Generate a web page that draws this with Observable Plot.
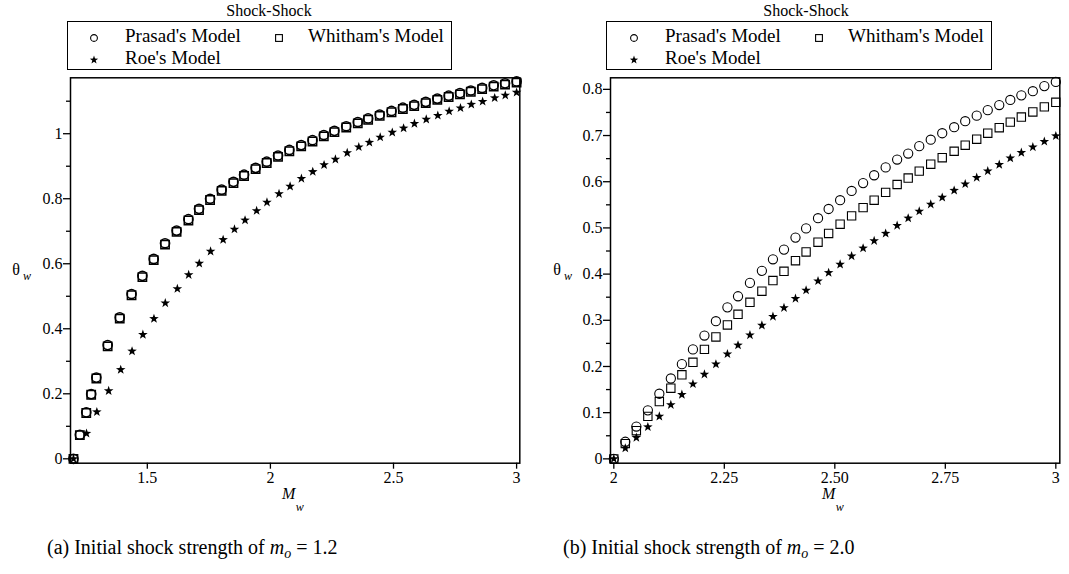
<!DOCTYPE html>
<html>
<head>
<meta charset="utf-8">
<script src="https://cdn.jsdelivr.net/npm/d3@7"></script>
<script src="https://cdn.jsdelivr.net/npm/@observablehq/plot@0.6"></script>
<style>
  body { margin: 0; background: #fff; }
  #page { position: relative; width: 1069px; height: 574px; overflow: hidden;
          font-family: "Liberation Serif", "Times New Roman", serif; color: #000; }
  .panel { position: absolute; top: 0; }
  .lbl { position: absolute; transform: translate(-50%, -50%); white-space: nowrap; line-height: 1; }
  .legend { position: absolute; border: 1.5px solid #000; box-sizing: border-box; background: #fff; }
  .cap { position: absolute; white-space: nowrap; font-size: 20px; transform: translateY(-50%); line-height: 1; }
  .cap sub { font-size: 14px; vertical-align: -4px; line-height: 0; }
</style>
</head>
<body>
<div id="page"></div>
<script>
// ---- Panel (a): initial shock strength m_o = 1.2 ----
// Prasad's and Whitham's models are sampled at the same Mach numbers here.
const mwA_PW = [1.200, 1.226, 1.252, 1.272, 1.293, 1.339, 1.388, 1.436, 1.480, 1.526, 1.572, 1.619, 1.667, 1.710,
  1.755, 1.802, 1.850, 1.893, 1.940, 1.985, 2.031, 2.077, 2.125, 2.171, 2.217, 2.260, 2.308, 2.355, 2.397, 2.444,
  2.492, 2.538, 2.584, 2.631, 2.678, 2.724, 2.770, 2.814, 2.860, 2.907, 2.953, 3.000];
const thetaA_Prasad = [0, 0.074, 0.143, 0.199, 0.250, 0.350, 0.435, 0.507, 0.563, 0.615, 0.663, 0.702, 0.737, 0.769,
  0.800, 0.828, 0.852, 0.874, 0.895, 0.914, 0.933, 0.950, 0.965, 0.980, 0.996, 1.009, 1.023, 1.036, 1.047, 1.059,
  1.070, 1.080, 1.089, 1.098, 1.108, 1.117, 1.125, 1.133, 1.141, 1.149, 1.155, 1.161];
const thetaA_Whitham = [0, 0.073, 0.141, 0.197, 0.247, 0.346, 0.431, 0.503, 0.559, 0.611, 0.659, 0.698, 0.733, 0.765,
  0.796, 0.824, 0.848, 0.870, 0.891, 0.910, 0.929, 0.946, 0.961, 0.976, 0.992, 1.005, 1.019, 1.032, 1.043, 1.055,
  1.066, 1.076, 1.085, 1.094, 1.104, 1.113, 1.121, 1.129, 1.137, 1.145, 1.151, 1.157];
const mwA_Roe = [1.200, 1.253, 1.295, 1.343, 1.392, 1.438, 1.482, 1.527, 1.573, 1.622, 1.668, 1.711, 1.757, 1.808,
  1.854, 1.897, 1.944, 1.986, 2.035, 2.080, 2.126, 2.172, 2.218, 2.264, 2.312, 2.359, 2.402, 2.446, 2.495, 2.541,
  2.585, 2.633, 2.680, 2.726, 2.772, 2.816, 2.862, 2.911, 2.954, 3.000];
const thetaA_Roe = [0, 0.078, 0.144, 0.209, 0.274, 0.331, 0.382, 0.431, 0.479, 0.523, 0.566, 0.601, 0.638, 0.674,
  0.706, 0.734, 0.763, 0.789, 0.815, 0.838, 0.862, 0.883, 0.904, 0.921, 0.941, 0.959, 0.973, 0.989, 1.004, 1.017,
  1.031, 1.044, 1.056, 1.069, 1.079, 1.090, 1.099, 1.110, 1.118, 1.127];

// ---- Panel (b): initial shock strength m_o = 2.0 ----
const mwB = [2.000, 2.026, 2.051, 2.077, 2.103, 2.129, 2.154, 2.179, 2.205, 2.231, 2.257, 2.281, 2.308, 2.335,
  2.360, 2.385, 2.411, 2.435, 2.462, 2.486, 2.512, 2.538, 2.564, 2.589, 2.615, 2.641, 2.666, 2.691, 2.717, 2.743,
  2.770, 2.795, 2.821, 2.846, 2.872, 2.897, 2.922, 2.948, 2.974, 3.000];
const thetaB_Prasad = [0, 0.037, 0.070, 0.105, 0.141, 0.174, 0.205, 0.237, 0.267, 0.298, 0.328, 0.352, 0.381, 0.407,
  0.432, 0.453, 0.479, 0.499, 0.521, 0.541, 0.560, 0.580, 0.597, 0.614, 0.631, 0.648, 0.661, 0.677, 0.691, 0.705,
  0.718, 0.731, 0.743, 0.755, 0.766, 0.777, 0.787, 0.796, 0.807, 0.816];
const thetaB_Whitham = [0, 0.033, 0.061, 0.092, 0.124, 0.153, 0.182, 0.209, 0.237, 0.264, 0.290, 0.313, 0.339, 0.363,
  0.386, 0.406, 0.429, 0.448, 0.469, 0.488, 0.508, 0.526, 0.544, 0.560, 0.577, 0.594, 0.608, 0.623, 0.638, 0.652,
  0.666, 0.679, 0.692, 0.705, 0.717, 0.729, 0.740, 0.751, 0.762, 0.772];
const thetaB_Roe = [0, 0.023, 0.046, 0.069, 0.092, 0.117, 0.139, 0.162, 0.183, 0.205, 0.227, 0.246, 0.268, 0.289,
  0.308, 0.327, 0.347, 0.365, 0.385, 0.403, 0.421, 0.439, 0.456, 0.472, 0.488, 0.505, 0.521, 0.536, 0.551, 0.566,
  0.581, 0.595, 0.609, 0.623, 0.637, 0.651, 0.663, 0.675, 0.687, 0.699];

// ---- Ticks and labels ----
const xTicksA = [1.5, 2, 2.5, 3];
const xLabelsA = ["1.5", "2", "2.5", "3"];
const yTicksA = [0, 0.2, 0.4, 0.6, 0.8, 1];
const yLabelsA = ["0", "0.2", "0.4", "0.6", "0.8", "1"];
const yMinorA = [0.1, 0.3, 0.5, 0.7, 0.9, 1.1];

const xTicksB = [2, 2.25, 2.5, 2.75, 3];
const xLabelsB = ["2", "2.25", "2.50", "2.75", "3"];
const yTicksB = [0, 0.1, 0.2, 0.3, 0.4, 0.5, 0.6, 0.7, 0.8];
const yLabelsB = ["0", "0.1", "0.2", "0.3", "0.4", "0.5", "0.6", "0.7", "0.8"];
const yMinorB = [0.05, 0.15, 0.25, 0.35, 0.45, 0.55, 0.65, 0.75];

const seriesNames = ["Prasad's Model", "Whitham's Model", "Roe's Model"];
const captions = ["(a) Initial shock strength of", "(b) Initial shock strength of"];
const captionValues = ["1.2", "2.0"];
const chartTitle = "Shock-Shock";

const page = document.getElementById("page");

// Slender five-pointed star used for Roe's model.
const thinStar = {
  draw(context, size) {
    const R = Math.sqrt(size / Math.PI) * 1.12, r = R * 0.4;
    for (let k = 0; k < 10; ++k) {
      const a = -Math.PI / 2 + k * Math.PI / 5, rr = k % 2 ? r : R;
      const px = rr * Math.cos(a), py = rr * Math.sin(a);
      if (k === 0) context.moveTo(px, py); else context.lineTo(px, py);
    }
    context.closePath();
  }
};

function rows(xs, ys) { return xs.map((x, i) => ({x, y: ys[i]})); }

function place(html, x, y, style = "") {
  const d = document.createElement("div");
  d.className = "lbl";
  d.style.cssText = `left:${x}px;top:${y}px;${style}`;
  d.innerHTML = html;
  page.appendChild(d);
  return d;
}

const symbolSvg = {
  circle: `<svg width="10" height="10" viewBox="-5 -5 10 10"><circle r="3.4" fill="none" stroke="#000" stroke-width="1.1"/></svg>`,
  square: `<svg width="10" height="10" viewBox="-5 -5 10 10"><rect x="-3.4" y="-3.4" width="6.8" height="6.8" fill="none" stroke="#000" stroke-width="1.1"/></svg>`,
  star: `<svg width="10" height="10" viewBox="-5 -5 10 10"><path d="${d3.symbol(thinStar, 48)()}" fill="#000"/></svg>`
};

function panel(cfg) {
  const H = 520;
  const fmt = (ticks, labels) => d => labels[ticks.findIndex(t => Math.abs(t - d) < 1e-9)];
  const chart = Plot.plot({
    width: cfg.width, height: H,
    marginLeft: cfg.frameL - cfg.left, marginRight: cfg.left + cfg.width - cfg.frameR,
    marginTop: 77.3, marginBottom: H - 462.7,
    x: {domain: cfg.xDomain, axis: null},
    y: {domain: cfg.yDomain, axis: null},
    style: {fontFamily: '"Liberation Serif", "Times New Roman", serif', fontSize: "16px", color: "#000", background: "transparent", overflow: "visible"},
    marks: [
      Plot.dot(rows(cfg.mwRoe, cfg.roe), {x: "x", y: "y", symbol: thinStar, r: 4.5, fill: "#000", stroke: "none"}),
      Plot.dot(rows(cfg.mwW, cfg.whitham), {x: "x", y: "y", symbol: "square", r: 4.7, fill: "none", stroke: "#000", strokeWidth: cfg.sw}),
      Plot.dot(rows(cfg.mwP, cfg.prasad), {x: "x", y: "y", symbol: "circle", r: 4.6, fill: "none", stroke: "#000", strokeWidth: cfg.sw}),
      Plot.axisX(cfg.xTicks, {anchor: "bottom", tickSize: 6, tickPadding: 2, tickFormat: fmt(cfg.xTicks, cfg.xLabels), fontSize: 16, label: null, strokeWidth: 1.3}),
      Plot.axisY(cfg.yTicks, {anchor: "left", tickSize: 7, tickPadding: 1, tickFormat: fmt(cfg.yTicks, cfg.yLabels), fontSize: 16, label: null, strokeWidth: 1.3}),
      Plot.axisY(cfg.yMinor, {anchor: "left", tickSize: 4, tickFormat: () => "", label: null, strokeWidth: 1.3}),
      Plot.frame({stroke: "#000", strokeWidth: 1.5})
    ]
  });
  chart.classList.add("panel");
  chart.style.left = cfg.left + "px";
  page.appendChild(chart);

  // title and legend above the plot frame
  place(chartTitle, cfg.titleX, 11, "font-size:16px");
  const lg = document.createElement("div");
  lg.className = "legend";
  lg.style.cssText = `left:${cfg.legL}px;top:21px;width:${cfg.legR - cfg.legL}px;height:49px`;
  page.appendChild(lg);
  const items = [["circle", seriesNames[0], cfg.sym1, cfg.txt1, 35],
                 ["square", seriesNames[1], cfg.sym2, cfg.txt2, 35],
                 ["star", seriesNames[2], cfg.sym1, cfg.txt1, 57]];
  for (const [sym, name, sx, tx, ty] of items) {
    place(symbolSvg[sym], sx, ty, "height:10px");
    place(name, tx, ty, "font-size:19px;transform:translate(0,-50%)");
  }

  // axis titles
  const cx = (cfg.frameL + cfg.frameR) / 2;
  place("<i>M</i>", cx - 6, 494, "font-size:16px");
  place("<i>w</i>", cx + 5, 507, "font-size:12px");
  place("&theta;", cfg.thetaX, 270, "font-size:16px");
  place("<i>w</i>", cfg.thetaX + 11, 276, "font-size:12px");
}

panel({
  left: 0, width: 534, frameL: 70, frameR: 519.3,
  xDomain: [1.188, 3.013], yDomain: [-0.0135, 1.172],
  mwP: mwA_PW, prasad: thetaA_Prasad, mwW: mwA_PW, whitham: thetaA_Whitham, mwRoe: mwA_Roe, roe: thetaA_Roe,
  xTicks: xTicksA, xLabels: xLabelsA, yTicks: yTicksA, yLabels: yLabelsA, yMinor: yMinorA,
  sw: 1.5, titleX: 269, legL: 67, legR: 452, sym1: 94, txt1: 125, sym2: 279, txt2: 308, thetaX: 16
});

panel({
  left: 535, width: 534, frameL: 610, frameR: 1059.3,
  xDomain: [1.9925, 3.009], yDomain: [-0.0094, 0.825],
  mwP: mwB, prasad: thetaB_Prasad, mwW: mwB, whitham: thetaB_Whitham, mwRoe: mwB, roe: thetaB_Roe,
  xTicks: xTicksB, xLabels: xLabelsB, yTicks: yTicksB, yLabels: yLabelsB, yMinor: yMinorB,
  sw: 1.1, titleX: 806, legL: 606, legR: 992, sym1: 634, txt1: 665, sym2: 819, txt2: 848, thetaX: 557
});

// captions below each panel
[[47, 0], [563, 1]].forEach(([x, i]) => {
  const d = document.createElement("div");
  d.className = "cap";
  d.style.cssText = `left:${x}px;top:547px`;
  d.innerHTML = `${captions[i]} <i>m</i><sub><i>o</i></sub> = ${captionValues[i]}`;
  page.appendChild(d);
});
</script>
</body>
</html>
